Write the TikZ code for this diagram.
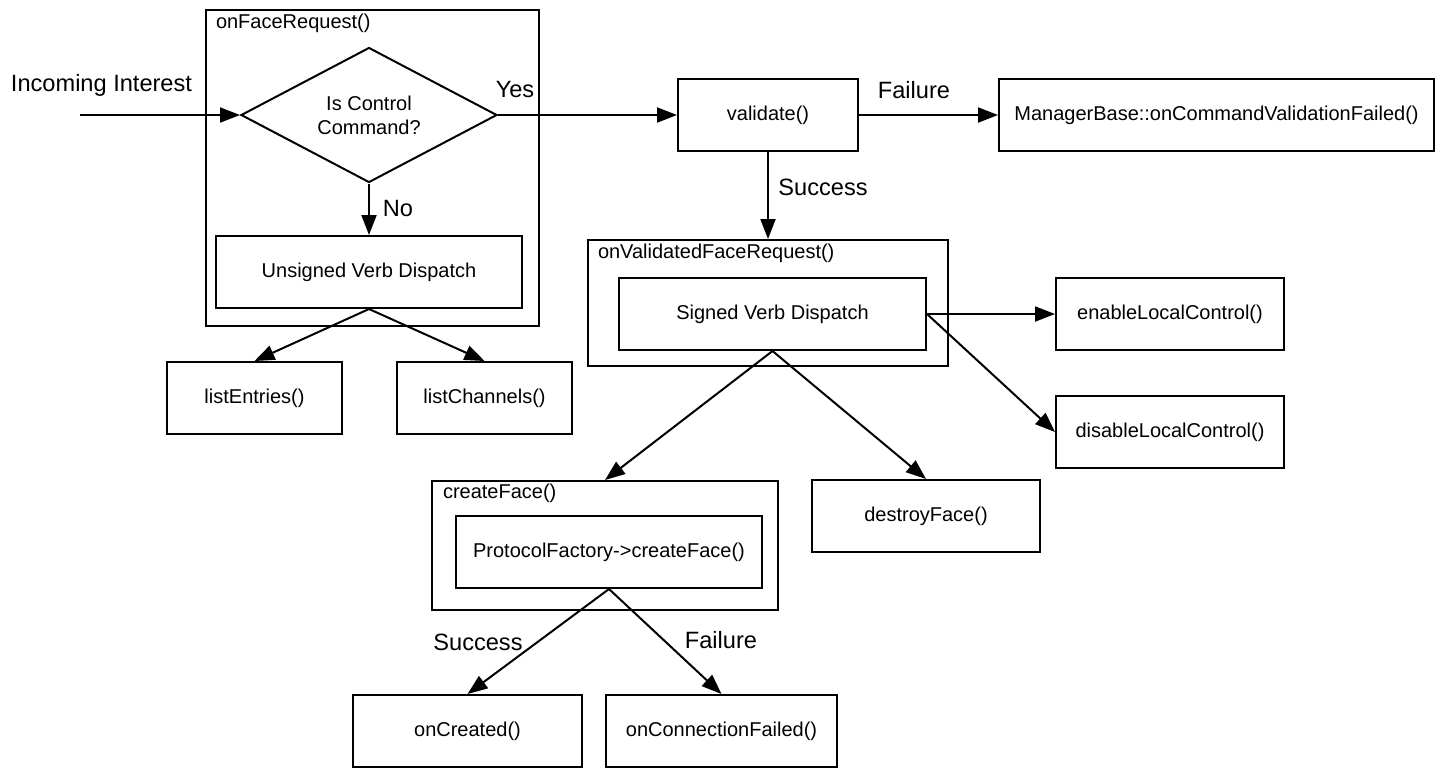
\documentclass[tikz,border=0pt]{standalone}
\usepackage{fontspec}
\setmainfont{Liberation Sans}
\usetikzlibrary{shapes.geometric,arrows.meta}

\begin{document}
\begin{tikzpicture}[line width=1pt]
    \tikzset{x=0.5pt, y=-0.5pt, >={Triangle[length=10pt, width=7.5pt]}}
    \tikzstyle{box}=[rectangle, draw, minimum height=36pt, inner sep=0pt, font=\fontsize{10}{12}\selectfont]
    \tikzstyle{frame}=[rectangle, draw, inner sep=0pt]
    \tikzstyle{tag}=[anchor=west, inner sep=0pt, font=\fontsize{10}{12}\selectfont]
    \tikzstyle{lbl}=[inner sep=0pt, font=\fontsize{11.8}{14}\selectfont]
    \tikzstyle{decide}=[diamond, draw, aspect=2, inner sep=1pt, minimum width=128pt, minimum height=67.5pt, align=center, font=\fontsize{10}{12}\selectfont]

    \useasboundingbox (0,0) rectangle (1439,768);

    % frames
    \draw (372.5, 168)  node[frame, minimum width=166.5pt, minimum height=158pt] (facereq)   {};
    \draw (768, 303)    node[frame, minimum width=180pt, minimum height=63pt]    (validated) {};
    \draw (605, 545.5)  node[frame, minimum width=173pt, minimum height=64.5pt]  (create)    {};

    \draw (215, 23)     node[tag]   (facereqtag)   {onFaceRequest()};
    \draw (597, 253)    node[tag]   (validatedtag) {onValidatedFaceRequest()};
    \draw (442, 493)    node[tag]   (createtag)    {createFace()};

    % boxes
    \coordinate (in) at (80, 115);
    \draw (369, 115)    node[decide] (cmd)  {Is Control\\Command?};
    \draw (369, 272)    node[box, minimum width=153pt]   (unsigned) {Unsigned Verb Dispatch};
    \draw (254.5, 398)  node[box, minimum width=87.5pt]  (entries)  {listEntries()};
    \draw (484.5, 398)  node[box, minimum width=87.5pt]  (channels) {listChannels()};

    \draw (768, 115)    node[box, minimum width=90pt]    (validate) {validate()};
    \draw (1216.5, 115) node[box, minimum width=217.5pt] (mgr)      {ManagerBase::onCommandValidationFailed()};

    \draw (772.5, 314)  node[box, minimum width=153.5pt] (signed)   {Signed Verb Dispatch};
    \draw (1170, 314)   node[box, minimum width=114pt]   (enable)   {enableLocalControl()};
    \draw (1170, 432)   node[box, minimum width=114pt]   (disable)  {disableLocalControl()};

    \draw (609, 552)    node[box, minimum width=153pt]   (factory)  {ProtocolFactory->createFace()};
    \draw (926, 516)    node[box, minimum width=114pt]   (destroy)  {destroyFace()};
    \draw (467.5, 731)  node[box, minimum width=114.5pt] (created)  {onCreated()};
    \draw (721.5, 731)  node[box, minimum width=115.5pt] (connfail) {onConnectionFailed()};

    % labels
    \draw (101.5, 85)   node[lbl] {Incoming Interest};
    \draw (515, 89)     node[lbl] {Yes};
    \draw (398, 208)    node[lbl] {No};
    \draw (914, 90)     node[lbl] {Failure};
    \draw (823, 187)    node[lbl] {Success};
    \draw (478, 642)    node[lbl] {Success};
    \draw (721, 640)    node[lbl] {Failure};

    % arrows
    \draw [->]          (in) -- (cmd.west);
    \draw [->]          (cmd.east) -- (validate.west);
    \draw [->]          (cmd.south) -- (unsigned.north);
    \draw [->]          (validate.east) -- (mgr.west);
    \draw [->]          (validate.south) -- (validated.north);
    \draw [->]          (unsigned.south) -- (entries.north);
    \draw [->]          (unsigned.south) -- (channels.north);
    \draw [->]          (signed.east) -- (enable.west);
    \draw [->]          (signed.east) -- (disable.west);
    \draw [->]          (signed.south) -- (create.north);
    \draw [->]          (signed.south) -- (destroy.north);
    \draw [->]          (factory.south) -- (created.north);
    \draw [->]          (factory.south) -- (connfail.north);
\end{tikzpicture}
\end{document}
